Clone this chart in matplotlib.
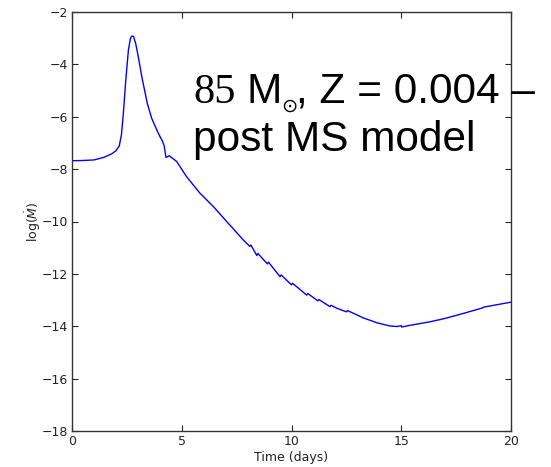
import matplotlib
matplotlib.use("Agg")
import matplotlib.pyplot as plt

# Data
time_days = [0.0, 0.5, 1.0, 1.45, 1.8, 2.0, 2.15, 2.25, 2.34, 2.45, 2.57, 2.66, 2.72,
             2.80, 2.90, 3.0, 3.18, 3.43, 3.63, 3.93, 4.13, 4.20, 4.28, 4.34, 4.43,
             4.77, 5.22, 5.83, 6.44, 7.1, 7.81, 8.1, 8.15, 8.42, 8.47, 8.9, 8.95,
             9.48, 9.53, 10.0, 10.05, 10.69, 10.74, 11.2, 11.25, 11.75, 11.8, 12.06,
             12.5, 12.55, 13.27, 13.9, 14.49, 14.8, 15.0, 15.02, 15.3, 16.31, 17.0,
             17.83, 18.7, 18.75, 20.0]
log_mdot = [-7.68, -7.67, -7.65, -7.55, -7.42, -7.30, -7.12, -6.70, -5.87, -4.60, -3.45,
            -3.02, -2.92, -2.93, -3.20, -3.62, -4.47, -5.49, -6.06, -6.63, -6.95, -7.12,
            -7.55, -7.53, -7.49, -7.71, -8.29, -8.92, -9.43, -10.05, -10.71, -10.95,
            -10.90, -11.30, -11.22, -11.62, -11.55, -12.11, -12.04, -12.42, -12.36,
            -12.81, -12.75, -13.03, -12.98, -13.25, -13.20, -13.31, -13.45, -13.40,
            -13.68, -13.87, -13.99, -14.01, -13.98, -14.03, -13.98, -13.83, -13.70,
            -13.51, -13.30, -13.27, -13.08]

x_ticks = [0, 5, 10, 15, 20]
y_ticks = [-18, -16, -14, -12, -10, -8, -6, -4, -2]

W, H = 551, 467
fig = plt.figure(figsize=(W/100, H/100), dpi=100)
ax = fig.add_axes([72/W, 1-431/H, (511-72)/W, (431-12)/H])
ax.plot(time_days, log_mdot, color='#0000ff', lw=1.0)
ax.set_xlim(0, 20)
ax.set_ylim(-18, -2)
ax.set_xticks(x_ticks)
ax.set_yticks(y_ticks)
ax.tick_params(direction='in', top=True, right=True, length=4, width=0.8,
               labelsize=9, colors='#222222', pad=3)
for s in ax.spines.values():
    s.set_color('#333333')
    s.set_linewidth(1.0)
ax.set_xlabel('Time (days)', fontsize=9, color='#222222', labelpad=2)
ax.set_ylabel(r'log($\dot{M}$)', fontsize=9, color='#222222', labelpad=-1)

# Overlaid title text
fs = 30.5
fig.text(193/W, 1-103/H, '85', family='Liberation Serif', fontsize=fs,
         va='baseline', ha='left', color='black')
fig.text(247/W, 1-103/H, 'M', family='Liberation Sans', fontsize=fs,
         va='baseline', ha='left', color='black')
fig.text(289/W, 1-106/H, '\u2299', family='DejaVu Sans', fontsize=14,
         va='center', ha='center', color='black')
fig.text(296/W, 1-103/H, ', Z = 0.004 \u2013', family='Liberation Sans',
         fontsize=fs, va='baseline', ha='left', color='black')
fig.text(193/W, 1-151/H, 'post MS model', family='Liberation Sans', fontsize=fs,
         va='baseline', ha='left', color='black')

fig.savefig('out.png', dpi=100)
